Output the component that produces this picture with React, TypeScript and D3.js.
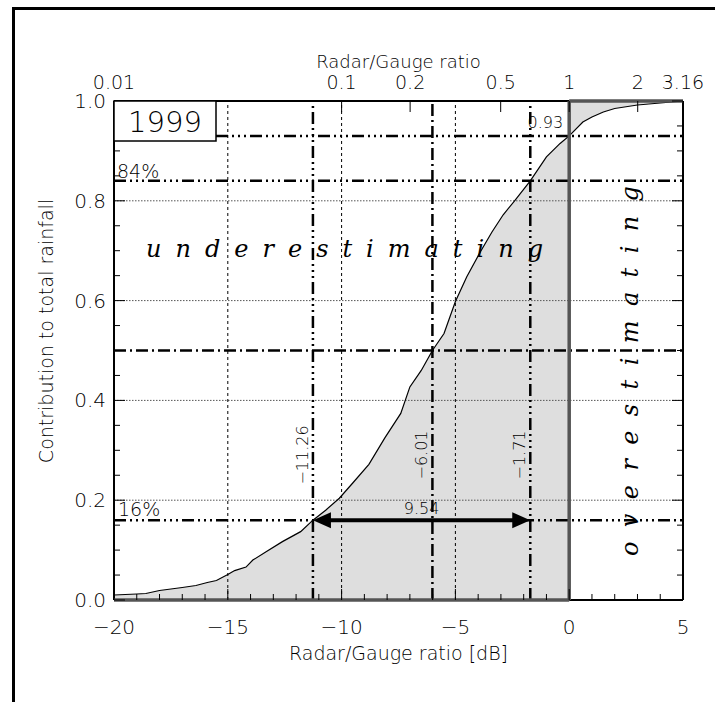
import React from 'react';
import * as d3 from 'd3';

// Cumulative contribution to total rainfall vs radar/gauge ratio (dB), 1999
const DB = [-20, -19.5, -19, -18.6, -18, -17.5, -17, -16.4, -15.9, -15.5, -15, -14.7, -14.2, -13.9, -13.3, -12.6, -11.8, -11.26, -10.7, -10.1, -9.5, -8.8, -8.1, -7.4, -7.0, -6.5, -6.01, -5.5, -5.0, -4.5, -3.9, -3.4, -2.9, -2.4, -1.71, -1.0, -0.4, 0, 0.6, 1.0, 1.5, 2.0, 3.0, 4.0, 5.0];
const FRACTION = [0.010, 0.011, 0.012, 0.013, 0.019, 0.022, 0.025, 0.029, 0.035, 0.039, 0.051, 0.059, 0.066, 0.080, 0.097, 0.117, 0.137, 0.160, 0.180, 0.204, 0.235, 0.272, 0.325, 0.374, 0.427, 0.460, 0.500, 0.534, 0.598, 0.648, 0.698, 0.737, 0.772, 0.800, 0.840, 0.888, 0.915, 0.930, 0.958, 0.968, 0.978, 0.985, 0.992, 0.996, 1.0];

const X_MAJOR = [-20, -15, -10, -5, 0, 5];
const Y_MAJOR = [0, 0.2, 0.4, 0.6, 0.8, 1.0];
const Y_LABELS = ['0.0', '0.2', '0.4', '0.6', '0.8', '1.0'];
const RATIO_TICKS = [0.01, 0.1, 0.2, 0.5, 1, 2, 3.16];
const RATIO_LABELS = ['0.01', '0.1', '0.2', '0.5', '1', '2', '3.16'];
const GRID_DB = [-15, -10, -5];
const GRID_FRAC = [0.2, 0.4, 0.6, 0.8];

const QUANTILE_LEVELS = [0.16, 0.5, 0.84];
const QUANTILE_DB = [-11.26, -6.01, -1.71];
const QUANTILE_LABELS = ['\u221211.26', '\u22126.01', '\u22121.71'];
const SPREAD_LABEL = '9.54';
const FRAC_AT_UNITY = 0.93;
const FRAC_AT_UNITY_LABEL = '0.93';
const YEAR = '1999';

const W = 715;
const H = 702;
const SANS = "'DejaVu Sans', sans-serif";
const SERIF = "'DejaVu Serif', 'Liberation Serif', serif";
const DASH_DOT = '12 4 2 4';
const DASH_DOT3 = '12 4 2 4 2 4 2 4';

export default function App() {
  const x = d3.scaleLinear().domain([-20, 5]).range([114, 683]);
  const y = d3.scaleLinear().domain([0, 1]).range([600, 101]);
  const [x0, x1] = x.range();
  const [yb, yt] = y.range();

  const pts = DB.map((d, i) => [d, FRACTION[i]] as [number, number]);
  const under = pts.filter((p) => p[0] <= 0);
  const over = pts.filter((p) => p[0] >= 0);

  const areaUnder = d3.area<[number, number]>().x((p) => x(p[0])).y0(y(0)).y1((p) => y(p[1]))(under) || '';
  const areaOver = d3.area<[number, number]>().x((p) => x(p[0])).y0(y(1)).y1((p) => y(p[1]))(over) || '';
  const curve = d3.line<[number, number]>().x((p) => x(p[0])).y((p) => y(p[1]))(pts) || '';

  const minorX = d3.range(-20, 5.001, 1);
  const minorY = d3.range(0, 1.0001, 0.05);
  const ratioX = (r: number) => x(10 * Math.log10(r));

  const lo = x(QUANTILE_DB[0]);
  const hi = x(QUANTILE_DB[2]);
  const ya = y(QUANTILE_LEVELS[0]);

  return (
    <svg width={W} height={H} style={{ position: 'absolute', left: 0, top: 0, background: '#fff' }}>
      {/* outer frame */}
      <path d={`M13.5,${H + 5} L13.5,8.5 L${W + 5},8.5`} fill="none" stroke="#000" strokeWidth={3} />

      {/* shaded contributions */}
      <path d={areaUnder} fill="#dedede" />
      <path d={areaOver} fill="#dedede" />

      {/* grid */}
      {GRID_FRAC.map((v) => (
        <line key={'gy' + v} x1={x0} x2={x1} y1={y(v)} y2={y(v)} stroke="#555" strokeWidth={1} strokeDasharray="1.5 1.5" />
      ))}
      {GRID_DB.map((v) => (
        <line key={'gx' + v} x1={x(v)} x2={x(v)} y1={yb} y2={yt} stroke="#000" strokeWidth={1} strokeDasharray="3 3" />
      ))}

      {/* quantile reference lines */}
      {QUANTILE_LEVELS.map((v, i) => (
        <line key={'qh' + v} x1={x0} x2={x1} y1={y(v)} y2={y(v)} stroke="#000" strokeWidth={2.5}
          strokeDasharray={i === 1 ? DASH_DOT : DASH_DOT3} />
      ))}
      <line x1={x0} x2={x1} y1={y(FRAC_AT_UNITY)} y2={y(FRAC_AT_UNITY)} stroke="#000" strokeWidth={2.5} strokeDasharray={DASH_DOT3} />
      {QUANTILE_DB.map((v, i) => (
        <line key={'qv' + v} x1={x(v)} x2={x(v)} y1={yb} y2={yt} stroke="#000" strokeWidth={2.5}
          strokeDasharray={i === 1 ? DASH_DOT : DASH_DOT3} />
      ))}

      {/* cumulative curve */}
      <path d={curve} fill="none" stroke="#000" strokeWidth={1.2} />

      {/* axes frame */}
      <line x1={x0} x2={x0} y1={yb} y2={yt} stroke="#000" strokeWidth={2} />
      <line x1={x1} x2={x1} y1={yb} y2={yt} stroke="#000" strokeWidth={2} />
      <line x1={x0} x2={x(0)} y1={yt} y2={yt} stroke="#000" strokeWidth={2} />
      <line x1={x(0)} x2={x1} y1={yb} y2={yb} stroke="#000" strokeWidth={2} />
      <line x1={x0} x2={x(0)} y1={yb} y2={yb} stroke="#555" strokeWidth={3.5} />
      <line x1={x(0)} x2={x(0)} y1={yb} y2={yt} stroke="#555" strokeWidth={3.5} />
      <line x1={x(0)} x2={x1} y1={yt} y2={yt} stroke="#555" strokeWidth={3.5} />

      {/* ticks */}
      {minorX.map((v) => (
        <line key={'tx' + v} x1={x(v)} x2={x(v)} y1={yb} y2={yb - (X_MAJOR.includes(v) ? 11 : 6)} stroke="#000" strokeWidth={1} />
      ))}
      {minorY.map((v, i) => (
        <g key={'ty' + i}>
          <line x1={x0} x2={x0 + (i % 4 === 0 ? 11 : 6)} y1={y(v)} y2={y(v)} stroke="#000" strokeWidth={1} />
          <line x1={x1} x2={x1 - (i % 4 === 0 ? 11 : 6)} y1={y(v)} y2={y(v)} stroke="#000" strokeWidth={1} />
        </g>
      ))}
      {RATIO_TICKS.map((r) => (
        <line key={'tr' + r} x1={ratioX(r)} x2={ratioX(r)} y1={yt} y2={yt + 11} stroke="#000" strokeWidth={1} />
      ))}

      {/* tick labels */}
      <g fontFamily={SANS} fontWeight={200} fontSize={20} fill="#000">
        {X_MAJOR.map((v) => (
          <text key={'lx' + v} x={x(v)} y={634} textAnchor="middle">{v < 0 ? '\u2212' + Math.abs(v) : String(v)}</text>
        ))}
        {Y_MAJOR.map((v, i) => (
          <text key={'ly' + v} x={106} y={y(v) + 7} textAnchor="end">{Y_LABELS[i]}</text>
        ))}
        {RATIO_TICKS.map((r, i) => (
          <text key={'lr' + r} x={ratioX(r)} y={89} fontSize={19} textAnchor="middle">{RATIO_LABELS[i]}</text>
        ))}
      </g>

      {/* axis titles */}
      <g fontFamily={SANS} fontWeight={200} fontSize={19} fill="#000">
        <text x={(x0 + x1) / 2} y={660} textAnchor="middle">Radar/Gauge ratio [dB]</text>
        <text x={(x0 + x1) / 2} y={68} fontSize={18} textAnchor="middle">Radar/Gauge ratio</text>
        <text transform={`translate(53,331) rotate(-90)`} textAnchor="middle">Contribution to total rainfall</text>
      </g>

      {/* year box */}
      <rect x={x0} y={yt} width={102} height={40} fill="#fff" stroke="#000" strokeWidth={1.5} />
      <text x={x0 + 51} y={yt + 31} textAnchor="middle" fontFamily={SANS} fontWeight={200} fontSize={29}>{YEAR}</text>

      {/* annotations */}
      <g fontFamily={SANS} fontWeight={200} fill="#000">
        <text x={117} y={y(0.84) - 3} fontSize={19}>84%</text>
        <text x={118} y={y(0.16) - 4} fontSize={19}>16%</text>
        <text x={x(0) - 6} y={y(FRAC_AT_UNITY) - 8} fontSize={16} textAnchor="end">{FRAC_AT_UNITY_LABEL}</text>
        {QUANTILE_DB.map((v, i) => (
          <text key={'ql' + v} transform={`translate(${x(v) - 5},455) rotate(-90)`} fontSize={16} textAnchor="middle">{QUANTILE_LABELS[i]}</text>
        ))}
        <text x={(lo + hi) / 2} y={ya - 6} fontSize={16} textAnchor="middle">{SPREAD_LABEL}</text>
      </g>

      {/* spread arrow */}
      <line x1={lo + 14} x2={hi - 14} y1={ya} y2={ya} stroke="#000" strokeWidth={4} />
      <path d={`M${lo},${ya} L${lo + 18},${ya - 8} L${lo + 18},${ya + 8} Z`} fill="#000" />
      <path d={`M${hi},${ya} L${hi - 18},${ya - 8} L${hi - 18},${ya + 8} Z`} fill="#000" />

      {/* region labels */}
      <text x={146} y={257} fontFamily={SERIF} fontStyle="italic" fontSize={24} textLength={397} lengthAdjust="spacing">underestimating</text>
      <text transform="translate(638,556) rotate(-90)" fontFamily={SERIF} fontStyle="italic" fontSize={24} textLength={370} lengthAdjust="spacing">overestimating</text>
    </svg>
  );
}
